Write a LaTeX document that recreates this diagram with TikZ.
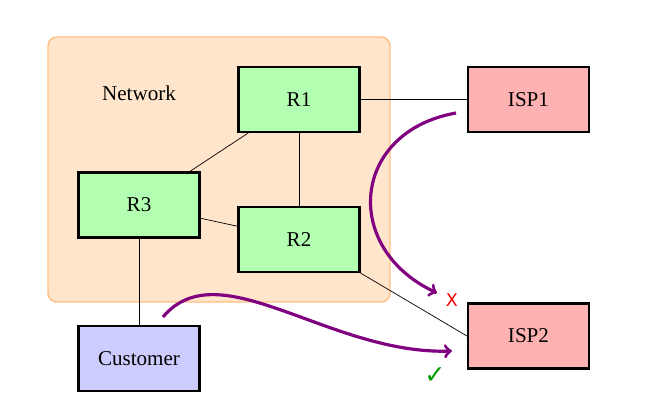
\documentclass[tikz,border=0pt]{standalone}
\usepackage{fontspec}
\setmainfont{Liberation Serif}
\newfontfamily\dejavu{DejaVu Sans}

\begin{document}
\begin{tikzpicture}[
    font=\large,
    box/.style={draw, very thick, minimum width=2.42cm, minimum height=1.3cm},
    router/.style={box, fill=green!30},
    isp/.style={box, fill=red!30},
    cust/.style={box, fill=blue!20},
    route/.style={->, line width=1.8pt, violet}
    ]
    \useasboundingbox (0, 0) rectangle (13.08, 8.16);
    \filldraw[orange!50, fill=orange!20, thick, rounded corners=5pt] (0.96, 2.12) rectangle (7.8, 7.42);
    \node (net) at (2.78, 6.3) {Network};
    \node[router] (r1) at (5.98, 6.17) {R1};
    \node[router] (r2) at (5.98, 3.37) {R2};
    \node[router] (r3) at (2.78, 4.06) {R3};
    \node[isp] (isp1) at (10.57, 6.17) {ISP1};
    \node[isp] (isp2) at (10.57, 1.44) {ISP2};
    \node[cust] (cust) at (2.78, 0.99) {Customer};
    \draw (r1) -- (r3);
    \draw (r1) -- (r2);
    \draw (r3) -- (r2);
    \draw (r1) -- (isp1);
    \draw (r2.south east) -- (isp2.west);
    \draw (r3) -- (cust);
    % routes
    \coordinate (badstart) at (9.12, 5.9);
    \coordinate (badend) at (8.74, 2.3);
    \coordinate (goodstart) at (3.26, 1.82);
    \coordinate (goodend) at (9.04, 1.14);
    \draw[route] (badstart) to[out=190, in=155, looseness=1.5] (badend);
    \draw[route] (goodstart) .. controls +(50:1.75) and +(182:2.45) .. (goodend);
    \node[red, font=\dejavu] (bad) at (9.04, 2.16) {X};
    \node[green!60!black, font=\dejavu\Large] (good) at (8.7, 0.64) {✓};
  \end{tikzpicture}
\end{document}
